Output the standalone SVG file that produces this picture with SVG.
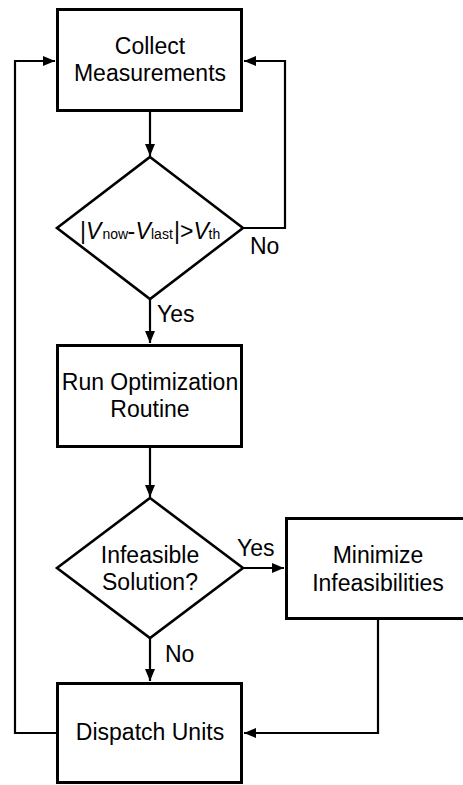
<svg xmlns="http://www.w3.org/2000/svg" width="463" height="785" viewBox="0 0 463 785">
<style>
.box{fill:#fff;stroke:#000;stroke-width:3}
.dia{fill:#fff;stroke:#000;stroke-width:2.6}
.ln{fill:none;stroke:#000;stroke-width:2.2}
text{font-family:"Liberation Sans",Arial,sans-serif;font-size:23px;fill:#000}
.c{text-anchor:middle}
.sub{font-size:14px}
.it{font-style:italic}
</style>
<defs>
<marker id="ah" markerWidth="12" markerHeight="10" refX="12" refY="5" orient="auto" markerUnits="userSpaceOnUse">
<path d="M0,0 L12,5 L0,10 Z" fill="#000"/>
</marker>
</defs>
<rect width="463" height="785" fill="#fff"/>
<g id="connectors">
<path class="ln" d="M150,111 V156" marker-end="url(#ah)"/>
<path class="ln" d="M243,228 H285 V61 H244" marker-end="url(#ah)"/>
<path class="ln" d="M150,299 V343" marker-end="url(#ah)"/>
<path class="ln" d="M150,447 V497" marker-end="url(#ah)"/>
<path class="ln" d="M243,568 H284" marker-end="url(#ah)"/>
<path class="ln" d="M150,638 V681" marker-end="url(#ah)"/>
<path class="ln" d="M378,619 V733 H244" marker-end="url(#ah)"/>
<path class="ln" d="M56,733 H15 V61 H55" marker-end="url(#ah)"/>
</g>
<g id="collect">
<rect class="box" x="57.5" y="9.5" width="184" height="101"/>
<text class="c" x="150" y="54">Collect</text>
<text class="c" x="150" y="81">Measurements</text>
</g>
<g id="check-voltage">
<polygon class="dia" points="150,157 243,228 150,299 57,228"/>
<text y="239"><tspan x="80">|</tspan><tspan x="86" class="it">V</tspan><tspan x="102.5" class="sub">now</tspan><tspan x="127.5">-</tspan><tspan x="135.5" class="it">V</tspan><tspan x="151" class="sub">last</tspan><tspan x="174">|</tspan><tspan x="180">&gt;</tspan><tspan x="193.5" class="it">V</tspan><tspan x="208.5" class="sub">th</tspan></text>
</g>
<text x="250" y="254">No</text>
<text x="157" y="322">Yes</text>
<g id="run-optimization">
<rect class="box" x="57.5" y="345.5" width="184" height="101"/>
<text class="c" x="150" y="390">Run Optimization</text>
<text class="c" x="150" y="417">Routine</text>
</g>
<g id="infeasible">
<polygon class="dia" points="150,498 243,568 150,638 57,568"/>
<text class="c" x="150" y="563">Infeasible</text>
<text class="c" x="150" y="590">Solution?</text>
</g>
<text x="237" y="556">Yes</text>
<text x="165" y="662">No</text>
<g id="minimize">
<rect class="box" x="286.5" y="518.5" width="184" height="100"/>
<text class="c" x="378" y="563">Minimize</text>
<text class="c" x="378" y="591">Infeasibilities</text>
</g>
<g id="dispatch">
<rect class="box" x="57.5" y="683.5" width="184" height="99"/>
<text class="c" x="150" y="740">Dispatch Units</text>
</g>
</svg>
